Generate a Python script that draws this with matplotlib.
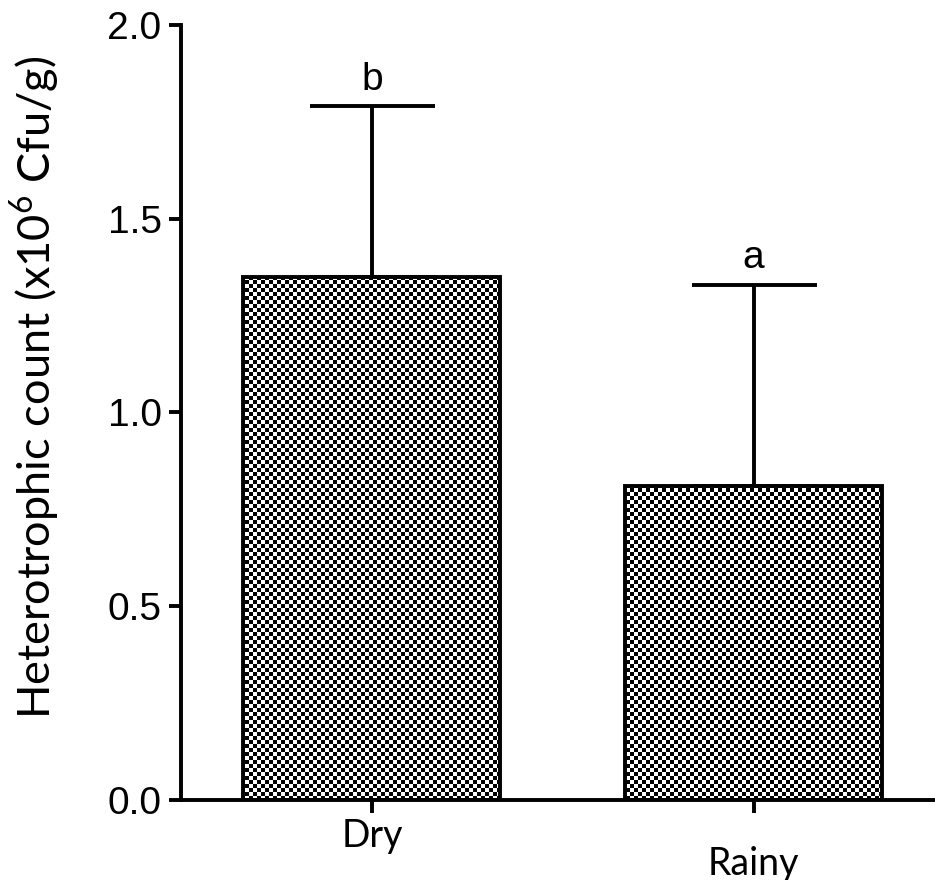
import numpy as np
import matplotlib
matplotlib.use("Agg")
import matplotlib.pyplot as plt

plt.rcParams["font.family"] = ["Liberation Sans", "DejaVu Sans"]
plt.rcParams["mathtext.fontset"] = "custom"
plt.rcParams["mathtext.rm"] = "Lato"
plt.rcParams["mathtext.it"] = "Lato:italic"

seasons = ["Dry", "Rainy"]
means = [1.35, 0.81]
errs = [0.44, 0.52]
letters = ["b", "a"]

fig = plt.figure(figsize=(9.35, 8.8), dpi=100)
ax = fig.add_axes([0.1936, 0.0909, 0.8064, 0.8807])

x = np.arange(len(seasons))
bars = ax.bar(x, means, width=0.673, facecolor="none", edgecolor="black",
              linewidth=2.8, zorder=3)
ax.errorbar(x, means, yerr=[np.zeros(len(errs)), errs], fmt="none",
            ecolor="black", elinewidth=2.8, capsize=45, capthick=2.8, zorder=2)

ax.set_xlim(-0.5, 1.475)
ax.set_ylim(0, 2.0)

# checkerboard fill, 4 px cells, clipped to each bar
fig.canvas.draw()
bb = ax.get_window_extent()
nx, ny = int(round(bb.width / 4)), int(round(bb.height / 4))
board = (np.add.outer(np.arange(ny), np.arange(nx)) % 2).astype(float)
for b in bars:
    im = ax.imshow(board, cmap="gray", vmin=0, vmax=1, interpolation="nearest",
                   extent=(0, 1, 0, 1), transform=ax.transAxes, aspect="auto",
                   zorder=2.5)
    im.set_clip_path(b)

for xi, m, e, lab in zip(x, means, errs, letters):
    ax.annotate(lab, (xi, m + e), xytext=(0, 12), textcoords="offset points",
                ha="center", va="baseline", fontsize=28)

ax.set_yticks([0.0, 0.5, 1.0, 1.5, 2.0])
ax.set_yticklabels(["0.0", "0.5", "1.0", "1.5", "2.0"])
ax.set_xticks(x)
ax.set_xticklabels(seasons, family="Lato", fontsize=27)
ax.tick_params(axis="y", labelsize=28, width=2.8, length=9, pad=5)
ax.tick_params(axis="x", width=2.8, length=9, pad=4)
# second category label sits lower
ax.xaxis.get_major_ticks()[1].set_pad(24)
for s in ["top", "right"]:
    ax.spines[s].set_visible(False)
for s in ["left", "bottom"]:
    ax.spines[s].set_linewidth(2.8)

ax.set_ylabel("Heterotrophic count (x10$^6$ Cfu/g)", family="Lato",
              fontsize=32.5)
ax.yaxis.set_label_coords(-0.158, 0.533)

fig.savefig("out.png", dpi=100)
